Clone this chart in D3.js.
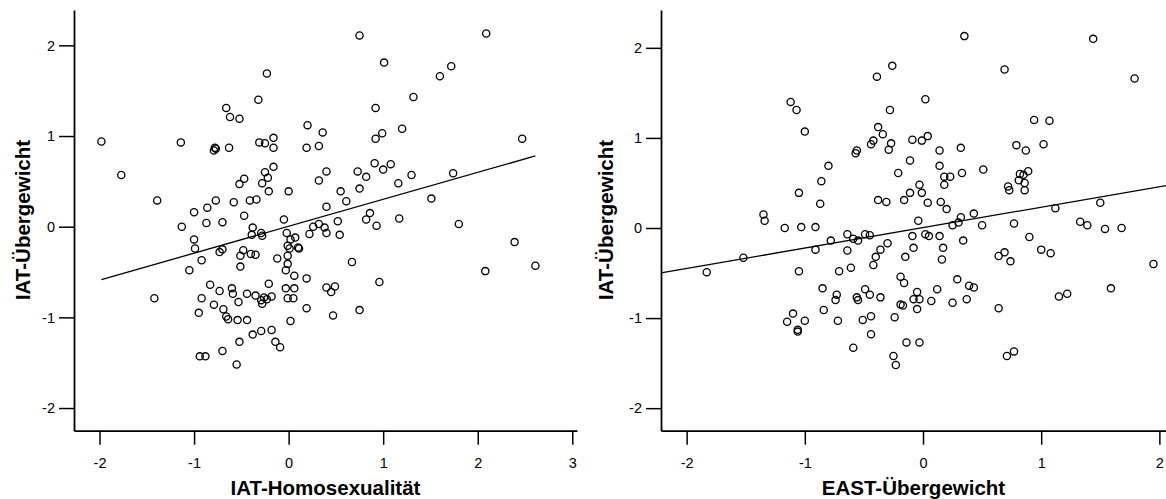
<!DOCTYPE html>
<html>
<head>
<meta charset="utf-8">
<script src="https://cdn.jsdelivr.net/npm/d3@7/dist/d3.min.js"></script>
<style>
  html, body { margin: 0; padding: 0; background: #fff; }
  svg { display: block; }
  .tick text { font-family: "Liberation Sans", Arial, sans-serif; font-size: 14.5px; fill: #000; }
  .axis-title { font-family: "Liberation Sans", Arial, sans-serif; font-size: 20.5px; font-weight: bold; fill: #000; }
</style>
</head>
<body>
<svg id="chart" width="1166" height="499"></svg>
<script>
// Scatter 1: IAT-Homosexualität (x) vs IAT-Übergewicht (y)
const homoX = [
  -1.98,-1.14,-1.77,-1.39,-0.23,-0.32,-0.66,-0.62,-0.52,0.20,0.36,-0.78,-0.77,-0.79,-0.63,-0.31,-0.25,-0.16,-0.16,0.19,
  0.32,-0.16,-0.25,-0.22,-0.28,-0.47,-0.52,-0.21,0.00,0.32,0.40,-0.34,-0.41,-0.58,-0.77,-0.86,-1.00,-0.47,-0.05,-1.13,
  -0.87,-0.70,-0.38,0.75,2.09,1.01,1.60,1.72,1.32,0.92,1.20,0.99,0.92,2.47,0.91,1.08,1.00,0.73,0.82,1.30,
  1.74,1.16,0.75,0.55,0.61,0.40,1.51,0.86,0.82,1.17,0.52,0.93,1.80,0.32,0.26,0.38,0.22,0.40,0.54,2.39,
  2.61,2.08,0.67,0.19,0.40,0.49,0.45,0.96,0.19,0.47,0.75,-0.39,-0.29,-0.28,-0.02,0.02,0.07,-1.00,-0.99,-0.70,
  -0.73,-0.48,-0.51,-0.40,-0.35,-0.01,0.01,0.10,0.11,-0.01,-0.12,-0.92,-0.51,-0.01,-1.05,-0.03,0.06,-0.83,-0.21,-0.73,
  -0.60,-0.59,-0.44,-0.35,-0.53,-0.26,-0.18,-0.29,-0.28,-0.23,-0.03,0.06,-0.01,0.05,-1.42,-0.92,-0.79,-0.69,-0.66,-0.64,
  -0.95,-0.54,-0.44,0.02,-0.18,-0.29,-0.38,-0.52,-0.14,-0.09,-0.70,-0.94,-0.88,-0.55
];
const homoY = [
  0.94,0.93,0.57,0.29,1.69,1.40,1.31,1.21,1.19,1.12,1.04,0.87,0.86,0.84,0.87,0.93,0.92,0.98,0.87,0.87,
  0.89,0.66,0.60,0.54,0.48,0.53,0.47,0.39,0.39,0.51,0.61,0.30,0.29,0.27,0.29,0.21,0.16,0.12,0.08,0.00,
  0.04,0.05,-0.01,2.11,2.13,1.81,1.66,1.77,1.43,1.31,1.08,1.03,0.97,0.97,0.70,0.69,0.63,0.61,0.55,0.57,
  0.59,0.48,0.42,0.39,0.28,0.22,0.31,0.15,0.08,0.09,0.06,0.01,0.03,0.03,0.00,-0.01,-0.08,-0.07,-0.09,-0.17,
  -0.43,-0.49,-0.39,-0.57,-0.67,-0.66,-0.72,-0.61,-0.90,-0.98,-0.92,-0.09,-0.07,-0.10,-0.07,-0.14,-0.12,-0.14,-0.24,-0.25,
  -0.28,-0.26,-0.32,-0.30,-0.31,-0.21,-0.24,-0.23,-0.24,-0.32,-0.35,-0.37,-0.44,-0.41,-0.48,-0.48,-0.54,-0.64,-0.63,-0.71,
  -0.68,-0.74,-0.74,-0.76,-0.83,-0.78,-0.77,-0.81,-0.85,-0.80,-0.68,-0.68,-0.79,-0.79,-0.79,-0.79,-0.86,-0.91,-0.99,-1.02,
  -0.95,-1.03,-1.03,-1.04,-1.14,-1.15,-1.19,-1.27,-1.27,-1.33,-1.37,-1.43,-1.43,-1.52
];

// Scatter 2: EAST-Übergewicht (x) vs IAT-Übergewicht (y)
const eastX = [
  -0.26,-0.39,-1.12,-1.07,-0.28,-1.00,-0.38,-0.34,-0.42,-0.44,-0.27,-0.29,-0.09,-0.56,-0.57,-0.11,-0.80,-0.21,-0.86,-1.05,
  -0.87,-0.38,-0.31,-0.16,-0.11,-1.35,-1.34,-1.17,-1.03,-0.91,0.35,1.44,0.69,1.79,0.02,0.94,1.07,-0.01,0.04,0.14,
  0.32,0.79,0.87,1.02,0.14,0.18,0.23,0.33,0.51,0.18,-0.03,-0.01,0.04,0.15,0.20,0.82,0.85,0.81,0.89,0.86,
  0.86,0.72,0.73,1.12,1.50,-0.04,0.32,0.25,0.30,0.43,0.50,0.77,1.33,1.39,1.54,1.68,-0.09,0.02,0.05,0.14,
  0.34,-0.08,0.17,-0.15,0.16,0.90,1.00,1.08,0.64,0.69,0.74,1.95,-0.19,-0.16,0.29,0.39,0.43,0.12,-0.05,-0.08,
  -0.03,0.07,-0.19,-0.17,-0.05,0.25,0.37,0.64,1.15,1.22,1.59,-0.14,-0.03,-0.23,-0.25,0.71,0.77,-1.52,-1.83,-1.05,
  -0.91,-0.78,-0.64,-0.59,-0.55,-0.49,-0.45,-0.64,-0.71,-0.61,-0.42,-0.40,-0.36,-0.30,-0.85,-0.73,-0.74,-0.56,-0.55,-0.49,
  -0.45,-0.36,-0.84,-1.10,-1.15,-1.00,-1.06,-1.06,-0.72,-0.51,-0.44,-0.24,-0.44,-0.59
];
const eastY = [
  1.80,1.68,1.40,1.31,1.31,1.07,1.12,1.04,0.97,0.93,0.94,0.87,0.98,0.86,0.83,0.75,0.69,0.61,0.52,0.39,
  0.27,0.31,0.29,0.31,0.39,0.15,0.08,0.00,0.01,0.01,2.13,2.10,1.76,1.66,1.43,1.20,1.19,0.97,1.02,0.86,
  0.89,0.92,0.86,0.93,0.69,0.57,0.57,0.61,0.65,0.48,0.48,0.39,0.28,0.29,0.21,0.60,0.59,0.53,0.63,0.50,
  0.42,0.46,0.42,0.22,0.28,0.08,0.12,0.03,0.06,0.16,0.03,0.05,0.07,0.03,-0.01,0.00,-0.09,-0.07,-0.09,-0.09,
  -0.14,-0.22,-0.22,-0.32,-0.35,-0.10,-0.24,-0.28,-0.31,-0.27,-0.37,-0.40,-0.54,-0.61,-0.57,-0.64,-0.66,-0.68,-0.71,-0.79,
  -0.79,-0.81,-0.85,-0.86,-0.90,-0.83,-0.79,-0.89,-0.76,-0.73,-0.67,-1.27,-1.27,-1.52,-1.42,-1.42,-1.37,-0.33,-0.49,-0.48,
  -0.24,-0.14,-0.07,-0.12,-0.14,-0.07,-0.08,-0.25,-0.48,-0.44,-0.41,-0.32,-0.24,-0.17,-0.67,-0.74,-0.80,-0.77,-0.80,-0.68,
  -0.74,-0.77,-0.91,-0.95,-1.04,-1.03,-1.13,-1.15,-1.03,-1.02,-0.98,-0.99,-1.18,-1.33
];

// Linear fit lines (intercept, slope)
const homoFit = [0.005, 0.297];
const eastFit = [0.004, 0.227];

const xTicksHomo = [-2, -1, 0, 1, 2, 3];
const xTicksEast = [-2, -1, 0, 1, 2];
const yTicks = [-2, -1, 0, 1, 2];

const svg = d3.select("#chart");

function drawPanel(cfg) {
  const g = svg.append("g");
  const x = d3.scaleLinear().domain(cfg.xDomain).range(cfg.xRange);
  const y = d3.scaleLinear().domain(cfg.yDomain).range(cfg.yRange);

  // axes
  const xAxis = d3.axisBottom(x).tickValues(cfg.xTicks).tickSize(14).tickSizeOuter(0).tickPadding(13)
    .tickFormat(d3.format("d"));
  const yAxis = d3.axisLeft(y).tickValues(yTicks).tickSize(15).tickSizeOuter(0).tickPadding(4)
    .tickFormat(d3.format("d"));

  const gx = g.append("g").attr("transform", `translate(0,${cfg.yRange[0]})`).call(xAxis);
  const gy = g.append("g").attr("transform", `translate(${cfg.xRange[0]},0)`).call(yAxis);
  [gx, gy].forEach(a => {
    a.select(".domain").attr("stroke", "#000").attr("stroke-width", 1.8);
    a.selectAll(".tick line").attr("stroke", "#000").attr("stroke-width", 1.5);
    a.selectAll(".tick text").text(d => d < 0 ? "-" + Math.abs(d) : d);
  });

  // regression line
  const [a, b] = cfg.fit;
  const xs = cfg.fitExtent;
  g.append("line")
    .attr("x1", x(xs[0])).attr("y1", y(a + b * xs[0]))
    .attr("x2", x(xs[1])).attr("y2", y(a + b * xs[1]))
    .attr("stroke", "#000").attr("stroke-width", 1.3);

  // points
  const pts = cfg.xs.map((v, i) => [v, cfg.ys[i]]);
  g.append("g").selectAll("circle").data(pts).join("circle")
    .attr("cx", d => x(d[0])).attr("cy", d => y(d[1])).attr("r", 3.6)
    .attr("fill", "none").attr("stroke", "#000").attr("stroke-width", 1.3);

  // titles
  g.append("text").attr("class", "axis-title")
    .attr("x", (cfg.xRange[0] + cfg.xRange[1]) / 2).attr("y", 495)
    .attr("text-anchor", "middle").text(cfg.xTitle);
  g.append("text").attr("class", "axis-title")
    .attr("transform", `translate(${cfg.yTitleX},${220}) rotate(-90)`)
    .attr("text-anchor", "middle").text(cfg.yTitle);
}

drawPanel({
  xs: homoX, ys: homoY, fit: homoFit,
  fitExtent: d3.extent(homoX),
  xDomain: [-2.27, 3.05], xRange: [74, 577],
  yDomain: [-2.25, 2.39], yRange: [430.7, 10],
  xTicks: xTicksHomo,
  xTitle: "IAT-Homosexualität", yTitle: "IAT-Übergewicht", yTitleX: 30
});

drawPanel({
  xs: eastX, ys: eastY, fit: eastFit,
  fitExtent: [-2.217, 2.1],
  xDomain: [-2.217, 2.056], xRange: [661, 1166],
  yDomain: [-2.25, 2.42], yRange: [430.7, 10],
  xTicks: xTicksEast,
  xTitle: "EAST-Übergewicht", yTitle: "IAT-Übergewicht", yTitleX: 613
});
</script>
</body>
</html>
